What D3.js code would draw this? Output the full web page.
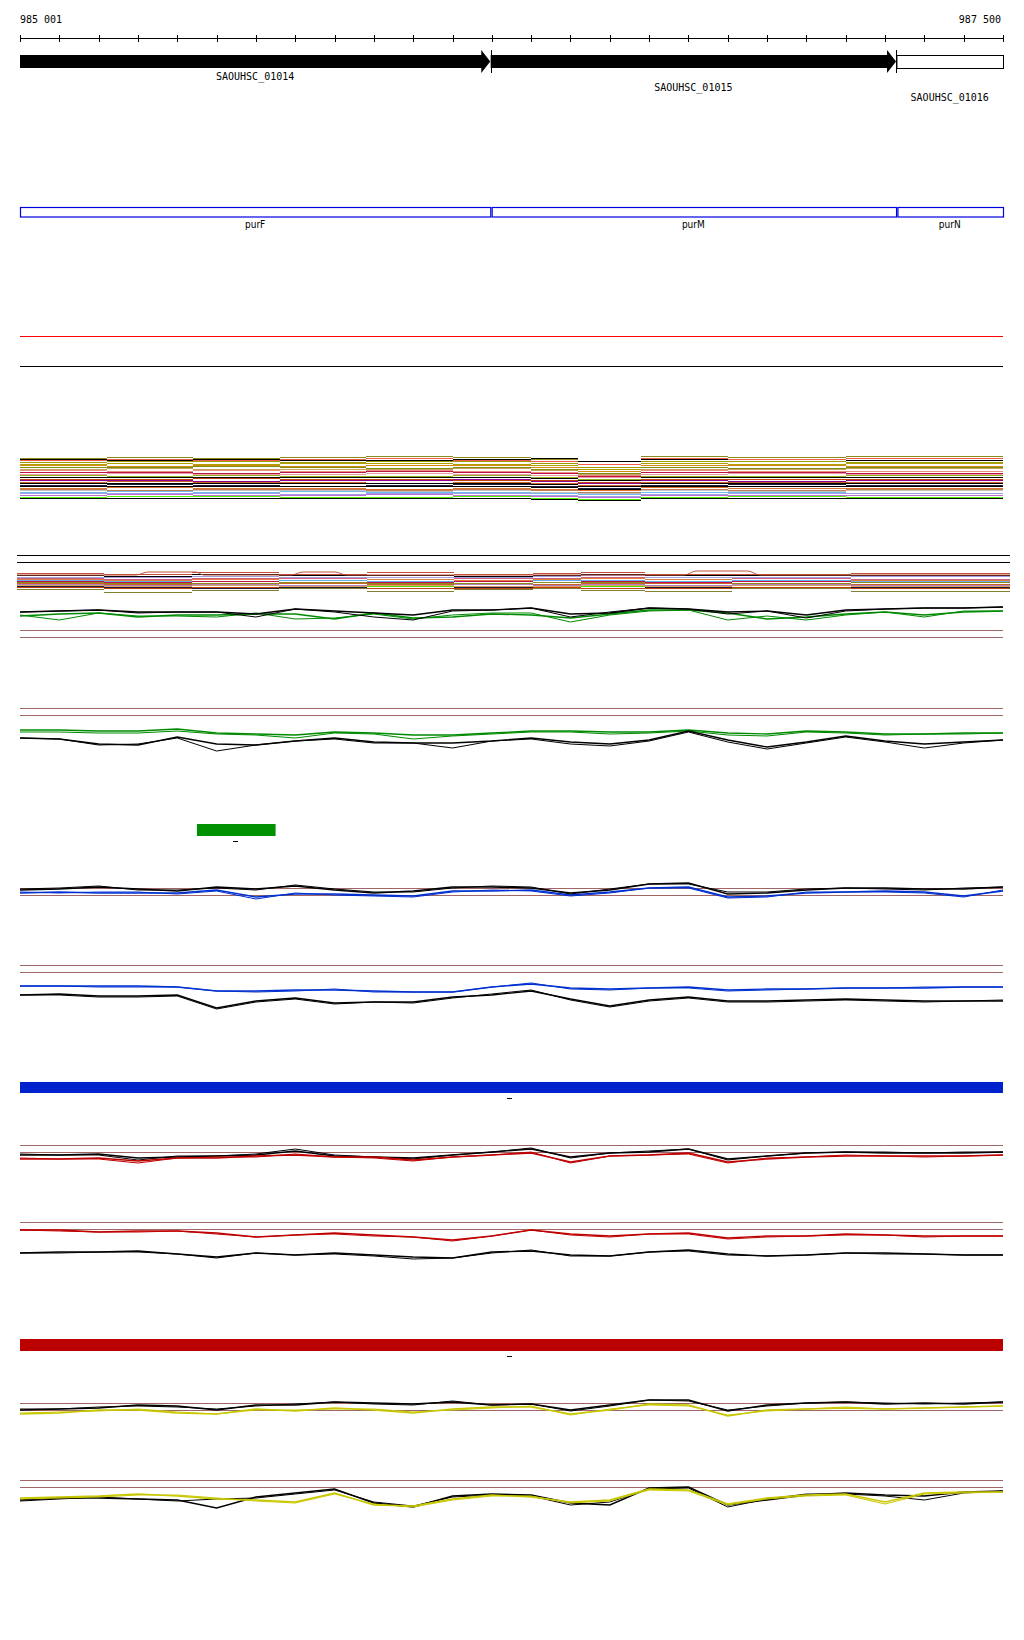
<!DOCTYPE html>
<html>
<head>
<meta charset="utf-8">
<script src="https://cdn.jsdelivr.net/npm/d3@7"></script>
<style>
  body { margin: 0; background: #fff; }
  text { font-family: "DejaVu Sans Mono", monospace; font-size: 10px; fill: #000; }
  .feat { font-family: "DejaVu Sans", sans-serif; font-stretch: condensed; font-size: 10px; }
</style>
</head>
<body>
<div id="chart"></div>
<script>
// ruler
const REGION_START = 985001;
const REGION_END = 987500;
const TICK_BP = [0,100,200,300,400,500,600,700,800,900,1000,1100,1200,1300,1400,1500,1600,1700,1800,1900,2000,2100,2200,2300,2400,2500];

// genes (bp offset from region start)
const GENE_NAMES = ["SAOUHSC_01014", "SAOUHSC_01015", "SAOUHSC_01016"];
const GENE_START = [0, 1197, 2229];
const GENE_END = [1196, 2228, 2500];
const GENE_FILLED = [true, true, false];

// operon features
const FEAT_NAMES = ["purF", "purM", "purN"];
const FEAT_START = [0, 1197, 2229];
const FEAT_END = [1196, 2228, 2500];

// step tracks: breakpoints
const STEP_BP = [0,220,440,660,880,1100,1300,1420,1580,1800,2100,2500];

const STEP_A_COLORS = ["#8b8b1c","#000000","#f05a4a","#9c9c00","#b0a000","#d08a10","#7f8f10","#c8a060","#e89080","#c0104a","#e8a0a0","#90b020","#000000","#c04010","#900090","#c86428","#000000","#1c1c38","#000000","#e07030","#c08050","#c0c0c0","#6cb8f0","#a0a0e8","#c070d0","#50f000","#000000"];
const STEP_A_VALUES = [
  [3,2,3,2,1,2,4,6,1,2,1,0],
  [4,5,4,5,5,4,3,6,4,4,5,4],
  [5,4,5,4,3,5,6,9,3,4,3,3],
  [7,6,6,7,6,6,8,12,6,6,7,6],
  [9,8,9,8,8,9,10,14,8,9,8,9],
  [10,11,10,11,10,10,12,16,10,10,11,10],
  [12,12,11,12,13,12,14,18,12,13,12,12],
  [14,13,14,14,14,13,15,19,14,14,13,14],
  [15,16,15,16,15,16,17,20,15,16,16,15],
  [17,17,18,17,16,17,18,21,17,17,18,17],
  [19,18,19,19,18,19,20,22,19,18,19,19],
  [20,21,20,21,21,20,22,24,21,21,20,21],
  [22,22,22,22,22,22,23,25,22,22,22,22],
  [24,24,23,24,24,25,25,27,24,24,24,23],
  [25,25,26,25,25,24,26,28,25,26,25,25],
  [27,26,27,27,28,27,28,30,27,27,27,26],
  [28,28,28,28,28,28,29,31,28,28,28,28],
  [30,29,30,31,30,29,31,33,30,29,30,30],
  [31,31,31,31,31,31,32,34,31,31,31,31],
  [33,32,33,33,34,33,34,35,32,33,33,33],
  [34,35,34,34,35,34,35,37,34,35,34,34],
  [35,36,35,35,36,35,37,38,35,36,35,36],
  [37,36,37,36,37,37,38,39,37,37,38,37],
  [38,38,38,39,38,38,40,41,39,38,38,38],
  [40,39,40,40,39,40,41,42,40,40,40,40],
  [42,41,41,42,42,41,43,44,42,41,42,41],
  [43,43,43,43,43,43,44,45,43,43,43,43]
];

const STEP_B_COLORS = ["#c0503a","#000000","#a0a0e0","#d06080","#e08040","#60b0f0","#c0104a","#8b8b1c","#c86428","#b080c0","#e0a060","#50e000","#1c1c38","#c04010","#808030"];
const STEP_B_VALUES = [
  [2,3,1,3,1,3,2,1,3,3,2,2],
  [4,5,3,4,4,5,4,3,4,4,4,4],
  [6,6,5,6,6,6,5,4,6,6,5,6],
  [7,8,7,7,8,7,7,6,8,7,8,7],
  [8,9,8,9,8,9,8,7,8,9,9,8],
  [9,10,10,9,10,10,9,9,10,9,10,9],
  [10,11,10,11,11,10,11,10,11,10,11,11],
  [11,12,12,11,12,12,11,11,12,12,11,12],
  [12,13,13,12,13,13,13,12,12,13,13,12],
  [13,14,13,14,14,13,14,13,14,13,14,13],
  [14,15,14,15,14,15,15,14,15,14,15,15],
  [15,16,16,17,15,16,16,15,16,16,16,15],
  [15,16,17,16,17,16,16,17,16,17,16,17],
  [16,17,16,17,17,17,16,17,17,16,17,16],
  [18,21,19,17,20,18,17,19,20,17,20,19]
];
const ARC_BP = [0,300,330,450,470,690,720,800,830,1680,1710,1840,1870,2500];
const ARC_VAL = [4,4,1,1,4,4,1,1,4,4,0,0,4,4];

// profile tracks, sampled every 100 bp
const PROFILE_BP = [0,100,200,300,400,500,600,700,800,900,1000,1100,1200,1300,1400,1500,1600,1700,1800,1900,2000,2100,2200,2300,2400,2500];

const C_BLACK1 = [12,11,10,12,12,12,14,9,11,13,15,10,10,8,14,13,8,9,12,11,15,10,9,8,8,7];
const C_BLACK2 = [12,11,10,13,12,12,17,9,12,17,20,11,10,8,17,12,8,9,14,11,18,11,9,8,8,7];
const C_GREEN1 = [16,14,13,17,15,15,14,14,19,13,18,17,14,15,18,14,10,10,13,19,17,14,12,15,12,11];
const C_GREEN2 = [15,20,13,16,16,17,13,19,18,14,19,15,13,13,22,15,11,10,20,16,20,15,12,17,11,11];

const D_GREEN1 = [10,10,11,11,9,13,14,15,12,13,15,15,13,11,11,12,12,10,13,14,11,12,14,14,13,13];
const D_GREEN2 = [12,12,13,13,11,14,15,18,13,14,19,16,14,12,12,14,13,11,15,16,12,13,15,14,14,13];
const D_BLACK1 = [18,19,24,25,17,24,25,21,18,22,23,23,21,18,22,24,20,11,20,27,22,16,21,24,22,20];
const D_BLACK2 = [18,19,25,24,18,31,25,21,19,23,23,28,21,19,24,26,21,12,22,29,23,17,22,28,23,20];

const E_BLACK1 = [10,9,7,9,11,7,9,6,10,13,11,7,7,8,13,10,4,3,14,13,10,8,8,9,9,7];
const E_BLACK2 = [9,8,6,10,10,8,10,5,9,12,12,8,6,7,14,9,4,4,12,12,9,8,9,10,8,7];
const E_BLUE1 = [13,12,13,13,13,10,17,14,14,15,16,11,11,10,15,12,8,7,17,16,13,12,11,12,16,11];
const E_BLUE2 = [12,13,12,12,14,11,19,13,15,16,17,12,10,11,16,13,8,8,18,17,12,12,12,13,17,10];

const F_BLUE1 = [6,6,6,6,7,11,11,10,10,11,12,12,7,4,8,9,8,7,10,9,9,8,8,8,7,7];
const F_BLUE2 = [6,6,7,7,7,11,12,11,9,12,12,12,7,3,9,10,8,8,11,10,9,8,8,7,7,7];
const F_BLACK1 = [15,14,16,16,15,28,21,18,23,22,22,17,15,11,19,26,20,17,21,21,20,19,20,21,21,21];
const F_BLACK2 = [15,15,17,17,16,29,22,19,24,22,23,18,14,10,20,27,21,18,22,22,21,20,21,22,21,20];

const G_BLACK1 = [15,15,14,18,17,16,15,11,16,17,18,15,12,9,17,13,12,9,19,16,13,12,13,13,13,12];
const G_BLACK2 = [14,15,15,20,16,16,14,9,15,17,19,15,12,8,18,13,11,9,20,16,13,12,12,13,12,12];
const G_RED1 = [19,19,18,21,18,18,16,15,17,17,20,17,15,13,22,16,15,13,22,19,17,16,16,16,16,15];
const G_RED2 = [18,19,19,23,18,17,17,14,17,18,21,17,15,12,23,16,15,14,23,18,17,15,16,17,16,15];

const H_RED1 = [5,5,7,6,6,8,12,10,8,10,12,15,11,5,9,11,9,8,13,11,11,9,10,11,11,11];
const H_RED2 = [5,6,7,7,6,9,12,10,9,11,12,16,11,5,10,12,9,9,14,12,11,10,10,12,11,11];
const H_BLACK1 = [28,27,27,26,29,32,28,30,28,30,32,33,27,26,30,31,27,25,29,31,30,28,28,29,30,30];
const H_BLACK2 = [28,28,27,27,29,33,28,30,29,31,34,33,28,25,31,31,27,26,30,31,30,28,29,29,30,30];

const I_BLACK1 = [15,14,13,10,11,15,10,10,7,8,9,7,10,9,15,10,5,5,16,10,8,7,9,8,9,7];
const I_BLACK2 = [14,14,12,11,12,14,11,9,7,9,10,6,10,9,16,11,5,6,15,11,8,7,8,9,8,7];
const I_YELLOW1 = [19,18,15,15,18,19,14,16,13,15,18,14,12,12,19,15,9,10,21,15,14,13,14,13,12,11];
const I_YELLOW2 = [18,17,16,14,17,19,15,15,14,14,17,15,13,11,20,14,10,11,20,16,14,12,14,13,12,11];

const J_BLACK1 = [20,18,18,19,20,28,17,13,9,23,27,16,14,15,23,25,8,7,25,20,15,13,15,16,12,11];
const J_BLACK2 = [21,19,17,19,21,19,18,14,10,22,26,17,15,16,25,22,9,8,27,19,14,14,16,20,13,11];
const J_YELLOW1 = [18,17,16,14,16,19,20,22,13,25,26,19,15,17,22,20,9,10,24,18,15,14,22,13,12,12];
const J_YELLOW2 = [19,18,17,15,15,18,21,23,14,24,27,20,16,16,23,21,10,11,25,19,16,15,24,14,13,12];

const BROWN = "#a06666";

const W = 1024, H = 1640;
const svg = d3.select("#chart").append("svg")
  .attr("width", W).attr("height", H)
  .style("background", "#fff");

const x = d3.scaleLinear().domain([0, 2500]).range([20, 1003]);
const xWide = d3.scaleLinear().domain([0, 2500]).range([17, 1010]);
const fmt = n => String(n).replace(/\B(?=(\d{3})+(?!\d))/g, " ");

// ruler
svg.append("line").attr("x1", x(0)).attr("x2", x(2500)).attr("y1", 38.5).attr("y2", 38.5)
  .attr("stroke", "#000");
svg.selectAll("line.tick").data(TICK_BP).enter().append("line")
  .attr("class", "tick")
  .attr("x1", d => Math.round(x(d)) + 0.5).attr("x2", d => Math.round(x(d)) + 0.5)
  .attr("y1", 35).attr("y2", 42).attr("stroke", "#000");
svg.append("text").attr("x", x(0)).attr("y", 23).text(fmt(REGION_START));
svg.append("text").attr("x", x(2500) - 2).attr("y", 23).attr("text-anchor", "end").text(fmt(REGION_END));

// genes
GENE_NAMES.forEach((name, i) => {
  const x0 = x(GENE_START[i]), x1 = x(GENE_END[i]);
  if (GENE_FILLED[i]) {
    const head = 9;
    svg.append("path")
      .attr("d", `M${x0},55 L${x1 - head},55 L${x1 - head},50 L${x1},61.5 L${x1 - head},73 L${x1 - head},68 L${x0},68 Z`)
      .attr("fill", "#000");
  } else {
    svg.append("rect").attr("x", x0 + 0.5).attr("y", 55.5).attr("width", x1 - x0).attr("height", 13)
      .attr("fill", "#fff").attr("stroke", "#000");
  }
  if (i > 0) {
    svg.append("line").attr("x1", Math.round(x0) + 0.5).attr("x2", Math.round(x0) + 0.5)
      .attr("y1", 50).attr("y2", 73).attr("stroke", "#000");
  }
  svg.append("text").attr("x", (x0 + x1) / 2).attr("y", 80 + i * 10.5)
    .attr("text-anchor", "middle").text(name);
});

// operon features
FEAT_NAMES.forEach((name, i) => {
  const x0 = x(FEAT_START[i]), x1 = x(FEAT_END[i]);
  svg.append("rect").attr("x", x0 + (i > 0 ? 1.5 : 0.5)).attr("y", 207.5)
    .attr("width", x1 - x0 - (i > 0 ? 1 : 0)).attr("height", 9.5)
    .attr("fill", "none").attr("stroke", "#0000e0").attr("stroke-width", 1.2);
  svg.append("text").attr("class", "feat").attr("x", (x0 + x1) / 2).attr("y", 228)
    .attr("text-anchor", "middle").text(name);
});

// separators
svg.append("line").attr("x1", x(0)).attr("x2", x(2500)).attr("y1", 336.5).attr("y2", 336.5).attr("stroke", "#ff0000");
svg.append("line").attr("x1", x(0)).attr("x2", x(2500)).attr("y1", 366.5).attr("y2", 366.5).attr("stroke", "#000");

// step tracks: flat segments only, no vertical joins
function stepTrack(xs, top, span, colors, values, width) {
  const y = d3.scaleLinear().domain([0, span]).range([top, top + span]);
  values.forEach((v, k) => {
    const segs = v.slice(0, -1).map((d, i) => ({ x0: xs(STEP_BP[i]), x1: xs(STEP_BP[i + 1]), y: Math.round(y(d)) + 0.5 }));
    svg.append("g").selectAll("line").data(segs).enter().append("line")
      .attr("x1", d => d.x0).attr("x2", d => d.x1).attr("y1", d => d.y).attr("y2", d => d.y)
      .attr("stroke", colors[k]).attr("stroke-width", width)
      .attr("shape-rendering", "crispEdges");
  });
  return y;
}
stepTrack(x, 455, 48, STEP_A_COLORS, STEP_A_VALUES, 1);

// track B
svg.append("line").attr("x1", xWide(0)).attr("x2", xWide(2500)).attr("y1", 555.5).attr("y2", 555.5).attr("stroke", "#000");
svg.append("line").attr("x1", xWide(0)).attr("x2", xWide(2500)).attr("y1", 562.5).attr("y2", 562.5).attr("stroke", "#000");
const yB = stepTrack(xWide, 571, 26, STEP_B_COLORS, STEP_B_VALUES, 1.5);
svg.append("path").datum(ARC_VAL)
  .attr("d", d3.line().x((d, i) => xWide(ARC_BP[i])).y(d => yB(d)).curve(d3.curveMonotoneX))
  .attr("fill", "none").attr("stroke", "#c0503a").attr("stroke-width", 1);

// profile panels
function profile(top, span, series) {
  const y = d3.scaleLinear().domain([0, span]).range([top, top + span]);
  const line = d3.line().x((d, i) => x(PROFILE_BP[i])).y(d => y(d));
  series.forEach(s => {
    svg.append("path").datum(s[0]).attr("d", line)
      .attr("fill", "none").attr("stroke", s[1]).attr("stroke-width", s[2]);
  });
}
function brownPair(y1, y2) {
  [y1, y2].forEach(yy => svg.append("line").attr("x1", x(0)).attr("x2", x(2500))
    .attr("y1", yy + 0.5).attr("y2", yy + 0.5).attr("stroke", BROWN));
}

profile(600, 25, [[C_GREEN2, "#008a00", 1], [C_GREEN1, "#008a00", 1.4], [C_BLACK2, "#000", 1], [C_BLACK1, "#000", 1.4]]);
brownPair(630, 637);

brownPair(708, 715);
profile(720, 35, [[D_GREEN2, "#008a00", 1], [D_GREEN1, "#008a00", 1.4], [D_BLACK2, "#000", 1], [D_BLACK1, "#000", 1.4]]);

// green block
svg.append("rect").attr("x", x(450)).attr("y", 824).attr("width", x(650) - x(450)).attr("height", 12).attr("fill", "#009000");
svg.append("line").attr("x1", 233).attr("x2", 238).attr("y1", 841.5).attr("y2", 841.5).attr("stroke", "#000");

brownPair(888, 895);
profile(880, 25, [[E_BLUE2, "#0030d0", 1], [E_BLUE1, "#0030d0", 1.4], [E_BLACK2, "#000", 1], [E_BLACK1, "#000", 1.4]]);

brownPair(965, 972);
profile(980, 32, [[F_BLUE2, "#0030d0", 1], [F_BLUE1, "#0030d0", 1.4], [F_BLACK2, "#000", 1], [F_BLACK1, "#000", 1.4]]);

// blue block
svg.append("rect").attr("x", x(0)).attr("y", 1082).attr("width", x(2500) - x(0)).attr("height", 11).attr("fill", "#0022cc");
svg.append("line").attr("x1", 507).attr("x2", 512).attr("y1", 1098.5).attr("y2", 1098.5).attr("stroke", "#000");

brownPair(1145, 1152);
profile(1140, 28, [[G_BLACK2, "#000", 1], [G_BLACK1, "#000", 1.4], [G_RED2, "#c00000", 1], [G_RED1, "#c00000", 1.4]]);

brownPair(1222, 1229);
profile(1225, 40, [[H_RED2, "#c00000", 1], [H_RED1, "#c00000", 1.4], [H_BLACK2, "#000", 1], [H_BLACK1, "#000", 1.4]]);

// red block
svg.append("rect").attr("x", x(0)).attr("y", 1339).attr("width", x(2500) - x(0)).attr("height", 12).attr("fill", "#bb0000");
svg.append("line").attr("x1", 507).attr("x2", 512).attr("y1", 1356.5).attr("y2", 1356.5).attr("stroke", "#000");

brownPair(1403, 1410);
profile(1395, 25, [[I_BLACK2, "#000", 1], [I_BLACK1, "#000", 1.4], [I_YELLOW2, "#c8c800", 1], [I_YELLOW1, "#c8c800", 1.4]]);

brownPair(1480, 1487);
profile(1480, 40, [[J_BLACK2, "#000", 1], [J_BLACK1, "#000", 1.4], [J_YELLOW2, "#c8c800", 1], [J_YELLOW1, "#c8c800", 1.4]]);
</script>
</body>
</html>
